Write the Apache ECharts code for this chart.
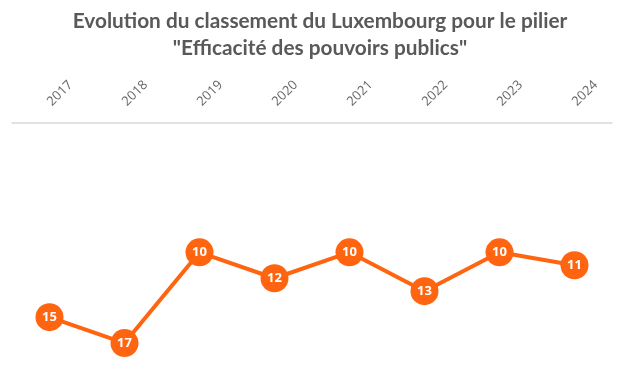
<!DOCTYPE html>
<html><head><meta charset="utf-8">
<script src="https://cdn.jsdelivr.net/npm/echarts@6/dist/echarts.min.js"></script>
<style>html,body{margin:0;padding:0;background:#fff}#c{width:640px;height:382px}</style>
</head><body><div id="c"></div>
<script>
const years = ['2017','2018','2019','2020','2021','2022','2023','2024'];
const ranks = [15, 17, 10, 12, 10, 13, 10, 11];
const titleLines = ['Evolution du classement du Luxembourg pour le pilier', '"Efficacité des pouvoirs publics"'];

const chart = echarts.init(document.getElementById('c'));
chart.setOption({
  backgroundColor: '#ffffff',
  title: {
    text: titleLines.join('\n'),
    left: 'center', top: 3,
    padding: [5, 16, 5, 0],
    textStyle: { fontFamily: 'Lato', fontWeight: 'bold', fontSize: 20.8, color: '#595959', lineHeight: 27 }
  },
  grid: { left: 12, width: 600, top: 120, height: 265 },
  xAxis: {
    type: 'category', data: years, position: 'top', boundaryGap: true,
    axisLine: { lineStyle: { color: '#d9d9d9', width: 1.5 } },
    axisTick: { show: false },
    axisLabel: { rotate: 45, color: '#666666', fontFamily: 'Open Sans', fontSize: 13, margin: 16 }
  },
  yAxis: {
    type: 'value', inverse: true, min: -0.2, max: 20, show: false,
    splitLine: { show: false }
  },
  series: [{
    type: 'line', data: ranks,
    symbol: 'circle', symbolSize: 28,
    lineStyle: { color: '#FF6510', width: 4 },
    itemStyle: { color: '#FF6510' },
    label: { show: true, position: 'inside', color: '#fff', fontWeight: 'bold', fontSize: 13, fontFamily: 'Open Sans' },
    animation: false
  }]
});
</script></body></html>
